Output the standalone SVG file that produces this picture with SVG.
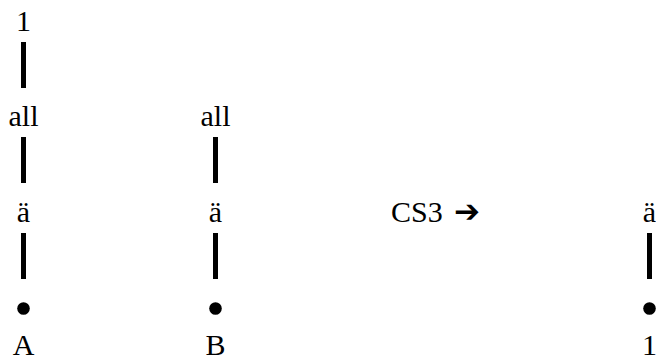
<svg xmlns="http://www.w3.org/2000/svg" width="656" height="358" viewBox="0 0 656 358">
<style>
text{font-family:"Liberation Serif","Times New Roman",serif;font-size:30px;fill:#000;text-anchor:middle}
.l{stroke:#000;stroke-width:5}
.arr{font-family:"DejaVu Sans",sans-serif;font-size:31px;text-anchor:start}
</style>
<rect width="656" height="358" fill="#fff"/>
<g id="connectors">
<line class="l" x1="23.5" y1="42" x2="23.5" y2="88"/>
<line class="l" x1="23.5" y1="137" x2="23.5" y2="183"/>
<line class="l" x1="23.5" y1="233" x2="23.5" y2="279"/>
<line class="l" x1="215.5" y1="137" x2="215.5" y2="183"/>
<line class="l" x1="215.5" y1="233" x2="215.5" y2="279"/>
<line class="l" x1="649.5" y1="233" x2="649.5" y2="279"/>
</g>
<g id="colA">
<text x="23.5" y="31">1</text>
<text x="23.5" y="126">all</text>
<text x="23.5" y="222">ä</text>
<circle cx="23.5" cy="308.5" r="6.3"/>
<text x="23.5" y="354.5">A</text>
</g>
<g id="colB">
<text x="215.5" y="126">all</text>
<text x="215.5" y="222">ä</text>
<circle cx="215.5" cy="308.5" r="6.3"/>
<text x="215.5" y="354.5">B</text>
</g>
<g id="op">
<text x="391" y="222" style="text-anchor:start">CS3</text>
<text class="arr" x="454" y="222">➔</text>
</g>
<g id="colC">
<text x="649.5" y="222">ä</text>
<circle cx="649.5" cy="308.5" r="6.3"/>
<text x="649.5" y="354.5">1</text>
</g>
</svg>
